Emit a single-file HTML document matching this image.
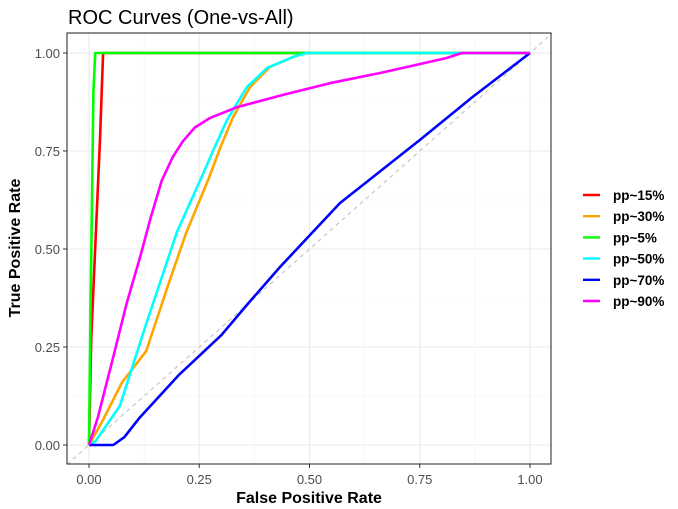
<!DOCTYPE html>
<html><head><meta charset="utf-8"><style>
body{margin:0;background:#fff;}
svg{display:block;font-family:"Liberation Sans",sans-serif;}
</style></head><body>
<svg id="chart" width="678" height="509">
<text x="68" y="24" font-size="20" fill="#000">ROC Curves (One-vs-All)</text>
<g id="grid"></g>
<g id="diag"></g>
<g id="series"></g>
<rect x="67" y="33" width="484" height="431" fill="none" stroke="#333" stroke-width="1.1"/>
<g id="axes"></g>
<text x="309" y="503" text-anchor="middle" font-size="16" font-weight="bold">False Positive Rate</text>
<text transform="translate(20,248) rotate(-90)" text-anchor="middle" font-size="16" font-weight="bold">True Positive Rate</text>
<g id="legend"></g>
</svg>
<script>
const seriesNames=["pp~15%","pp~30%","pp~5%","pp~50%","pp~70%","pp~90%"];
const seriesColors=["#ff0000","#ffa500","#00ff00","#00ffff","#0000ff","#ff00ff"];
const fpr15=[0,0.005,0.025,0.032,1];
const tpr15=[0,0.27,0.78,1,1];
const fpr30=[0,0.03,0.075,0.13,0.18,0.22,0.27,0.3,0.327,0.365,0.41,0.463,0.49,1];
const tpr30=[0,0.06,0.16,0.24,0.41,0.54,0.676,0.765,0.837,0.913,0.964,0.99,1,1];
const fpr50=[0,0.015,0.07,0.13,0.2,0.23,0.256,0.285,0.313,0.358,0.404,0.463,0.494,1];
const tpr50=[0,0.01,0.10,0.31,0.545,0.62,0.685,0.76,0.829,0.913,0.962,0.99,1,1];
const fpr5=[0,0.003,0.01,0.014,1];
const tpr5=[0,0.3,0.9,1,1];
const fpr70=[0,0.055,0.08,0.115,0.205,0.3,0.36,0.433,0.569,0.75,0.87,1];
const tpr70=[0,0,0.02,0.07,0.18,0.28,0.36,0.454,0.617,0.778,0.888,1];
const fpr90=[0,0.02,0.054,0.085,0.116,0.14,0.165,0.19,0.213,0.24,0.274,0.336,0.44,0.546,0.66,0.81,0.846,1];
const tpr90=[0,0.07,0.22,0.36,0.48,0.58,0.675,0.735,0.775,0.81,0.834,0.862,0.893,0.923,0.949,0.987,1,1];
const tickVals=[0,0.25,0.5,0.75,1];
const tickLabels=["0.00","0.25","0.50","0.75","1.00"];
const X=v=>89+441*v, Y=v=>445-392*v;
const NS="http://www.w3.org/2000/svg";
function mk(t,a,p){const e=document.createElementNS(NS,t);for(const k in a)e.setAttribute(k,a[k]);p.appendChild(e);return e;}
const grid=document.getElementById('grid'),axes=document.getElementById('axes');
mk('rect',{x:67,y:33,width:484,height:431,fill:'#fff'},grid);
[0.125,0.375,0.625,0.875].forEach(v=>{
 const a=mk('line',{x1:X(v),x2:X(v),y1:33,y2:464,stroke:'#f2f2f2','stroke-width':0.6},grid);
 
 
 const b=mk('line',{x1:67,x2:551,y1:Y(v),y2:Y(v),stroke:'#f2f2f2','stroke-width':0.6},grid);
 
 
});
tickVals.forEach((v,i)=>{
 const a=mk('line',{x1:X(v),x2:X(v),y1:33,y2:464,stroke:'#ebebeb','stroke-width':1.1},grid);
 
 
 const b=mk('line',{x1:67,x2:551,y1:Y(v),y2:Y(v),stroke:'#ebebeb','stroke-width':1.1},grid);
 
 
 mk('line',{x1:X(v),x2:X(v),y1:464,y2:468,stroke:'#333'},axes);
 mk('line',{x1:63,x2:67,y1:Y(v),y2:Y(v),stroke:'#333'},axes);
 const tx=mk('text',{x:X(v),y:484,'text-anchor':'middle','font-size':13,fill:'#4d4d4d'},axes);
 tx.textContent=tickLabels[i];
 
 
 const ty=mk('text',{x:60,y:Y(v)+5,'text-anchor':'end','font-size':13,fill:'#4d4d4d'},axes);
 ty.textContent=tickLabels[i];
 
 
});
const d=mk('line',{x1:X(-0.05),y1:Y(-0.05),x2:X(1.05),y2:Y(1.05),stroke:'#bbb','stroke-width':1,'stroke-dasharray':'4,4'},document.getElementById('diag'));


const fprs=[fpr15,fpr30,fpr5,fpr50,fpr70,fpr90],tprs=[tpr15,tpr30,tpr5,tpr50,tpr70,tpr90];
const sg=document.getElementById('series'),lg=document.getElementById('legend');
seriesNames.forEach((n,i)=>{
 const pts=fprs[i].map((f,j)=>X(f).toFixed(1)+','+Y(tprs[i][j]).toFixed(1)).join(' ');
 const pl=mk('polyline',{points:pts,fill:'none',stroke:seriesColors[i],'stroke-width':2.6,'stroke-linejoin':'round'},sg);
 
 
 const y=195+21.2*i;
 const k=mk('line',{x1:583,x2:600,y1:y,y2:y,stroke:seriesColors[i],'stroke-width':2.4},lg);
 
 
 const t=mk('text',{x:613,y:y+5,'font-size':13.5,'font-weight':'bold'},lg);
 t.textContent=n;
 
 
});
</script>
</body></html>
